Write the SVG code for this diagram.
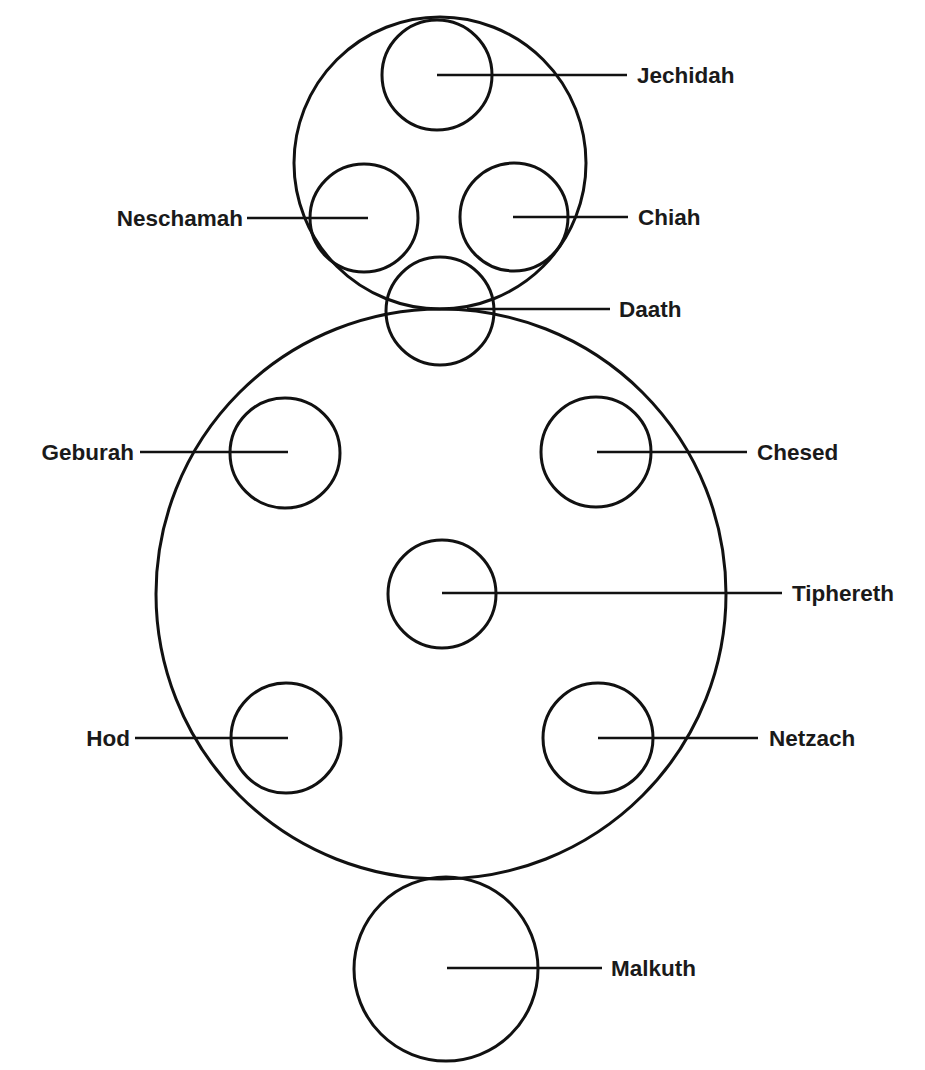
<svg xmlns="http://www.w3.org/2000/svg" width="925" height="1070" viewBox="0 0 925 1070">
<style>
.c{fill:none;stroke:#111;stroke-width:3}
.l{stroke:#111;stroke-width:2.6;fill:none}
.t{font-family:"Liberation Sans",Arial,sans-serif;font-weight:bold;font-size:22.5px;fill:#1a1a1a}
.e{text-anchor:end}
</style>
<rect width="925" height="1070" fill="#fff"/>
<g id="upper-sphere"><circle class="c" cx="440" cy="163" r="146"/></g>
<g id="lower-sphere"><circle class="c" cx="441" cy="594" r="285"/></g>
<g id="connectors">
<line class="l" x1="437" y1="75" x2="627" y2="75"/>
<line class="l" x1="247" y1="218" x2="368" y2="218"/>
<line class="l" x1="513" y1="217" x2="628" y2="217"/>
<line class="l" x1="467" y1="309" x2="610" y2="309"/>
<line class="l" x1="140" y1="452" x2="288" y2="452"/>
<line class="l" x1="597" y1="452" x2="747" y2="452"/>
<line class="l" x1="442" y1="593" x2="782" y2="593"/>
<line class="l" x1="135" y1="738" x2="288" y2="738"/>
<line class="l" x1="598" y1="738" x2="758" y2="738"/>
<line class="l" x1="447" y1="968" x2="602" y2="968"/>
</g>
<g id="jechidah"><circle class="c" cx="437" cy="75" r="55"/><text class="t" x="637" y="83">Jechidah</text></g>
<g id="neschamah"><circle class="c" cx="364" cy="218" r="54"/><text class="t e" x="243" y="226">Neschamah</text></g>
<g id="chiah"><circle class="c" cx="514" cy="217" r="54"/><text class="t" x="638" y="225">Chiah</text></g>
<g id="daath"><circle class="c" cx="440" cy="311" r="54"/><text class="t" x="619" y="317">Daath</text></g>
<g id="geburah"><circle class="c" cx="285" cy="453" r="55"/><text class="t e" x="134" y="460">Geburah</text></g>
<g id="chesed"><circle class="c" cx="596" cy="452" r="55"/><text class="t" x="757" y="460">Chesed</text></g>
<g id="tiphereth"><circle class="c" cx="442" cy="594" r="54"/><text class="t" x="792" y="601">Tiphereth</text></g>
<g id="hod"><circle class="c" cx="286" cy="738" r="55"/><text class="t e" x="130" y="746">Hod</text></g>
<g id="netzach"><circle class="c" cx="598" cy="738" r="55"/><text class="t" x="769" y="746">Netzach</text></g>
<g id="malkuth"><circle class="c" cx="446" cy="969" r="92"/><text class="t" x="611" y="976">Malkuth</text></g>
</svg>
